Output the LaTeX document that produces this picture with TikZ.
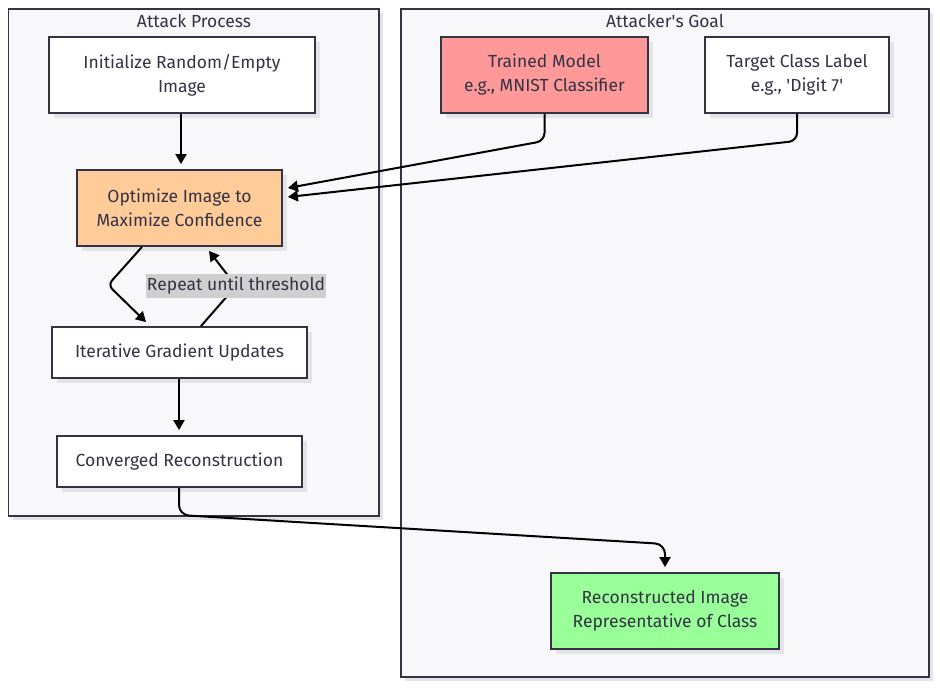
\documentclass[tikz,border=0pt]{standalone}
\usepackage{fontspec}
\setmainfont{Fira Sans}
\usetikzlibrary{arrows.meta,calc,shadows}
\definecolor{txt}{HTML}{333344}
\definecolor{bord}{HTML}{333344}
\definecolor{clfill}{HTML}{F8F8FA}
\definecolor{orng}{HTML}{FFCC99}
\definecolor{rd}{HTML}{FF9999}
\definecolor{grn}{HTML}{99FF99}
\definecolor{lblbg}{HTML}{CFCFCF}
\definecolor{shad}{HTML}{E4E4E6}
\tikzset{
  cluster/.style={draw=bord,line width=1.8pt,fill=clfill,inner sep=0pt,
    drop shadow={shadow xshift=4pt,shadow yshift=-4pt,fill=shad,opacity=1}},
  ctitle/.style={text=txt,font=\fontsize{17.5}{20}\selectfont,inner sep=0pt},
  box/.style={draw=bord,line width=1.8pt,fill=white,align=center,text=txt,
    font=\fontsize{17.5}{24}\selectfont,inner sep=0pt,
    drop shadow={shadow xshift=5pt,shadow yshift=-5pt,fill=shad,opacity=1}},
  arr/.style={draw=black,line width=2pt,-{Triangle[length=10pt,width=11pt]}},
  lbl/.style={fill=lblbg,text=txt,font=\fontsize{17.5}{20}\selectfont,inner xsep=1pt,inner ysep=0pt,minimum height=24pt}
}
\begin{document}
\begin{tikzpicture}[x=1pt,y=-1pt]
\useasboundingbox (0,0) rectangle (940,688);
% clusters
\node[cluster,minimum width=370.5pt,minimum height=507pt] (c1) at (193.75,262.5) {};
\node[cluster,minimum width=528pt,minimum height=668pt] (c2) at (665,343) {};
\node[ctitle] (t1) at (194,21) {Attack Process};
\node[ctitle] (t2) at (665,21) {Attacker\textquotesingle s Goal};
% nodes
\node[box,minimum width=266pt,minimum height=76pt] (init) at (182,75) {Initialize Random/Empty\\Image};
\node[box,fill=orng,minimum width=205pt,minimum height=76pt] (opt) at (179.5,208) {Optimize Image to\\Maximize Confidence};
\node[box,minimum width=255pt,minimum height=51pt] (iter) at (179.5,352.5) {Iterative Gradient Updates};
\node[box,minimum width=245pt,minimum height=51pt] (conv) at (179.5,461.5) {Converged Reconstruction};
\node[box,fill=rd,minimum width=207pt,minimum height=76pt] (trained) at (544.5,75) {Trained Model\\e.g., MNIST Classifier};
\node[box,minimum width=184pt,minimum height=76pt] (target) at (797,75) {Target Class Label\\e.g., \textquotesingle Digit 7\textquotesingle};
\node[box,fill=grn,minimum width=228pt,minimum height=76pt] (recon) at (665,611) {Reconstructed Image\\Representative of Class};
% edges
\draw[arr] (init.south -| 181,0) -- ($(opt.north -| 181,0)+(0,-5)$);
\draw[arr,rounded corners=8pt] (trained.south) -- ++(0,27) -- ($(opt.east)+(5,-20)$);
\draw[arr,rounded corners=8pt] (target.south) -- ++(0,27) -- ($(opt.east)+(5,-11)$);
\draw[arr,rounded corners=6pt] ($(opt.south)+(-37.5,0)$) -- (108,285) -- ($(iter.north)+(-33.5,-4)$);
\draw[arr,rounded corners=6pt] ($(iter.north)+(21.5,0)$) -- (236,286) -- ($(opt.south)+(29.5,4)$);
\node[lbl] (rep) at (236,286) {Repeat until threshold};
\draw[arr] (iter.south -| 179,0) -- ($(conv.north -| 179,0)+(0,-5)$);
\draw[arr,rounded corners=10pt] (conv.south -| 179,0) -- (179,515) -- (665,544) -- ($(recon.north)+(0,-5)$);
\end{tikzpicture}
\end{document}
